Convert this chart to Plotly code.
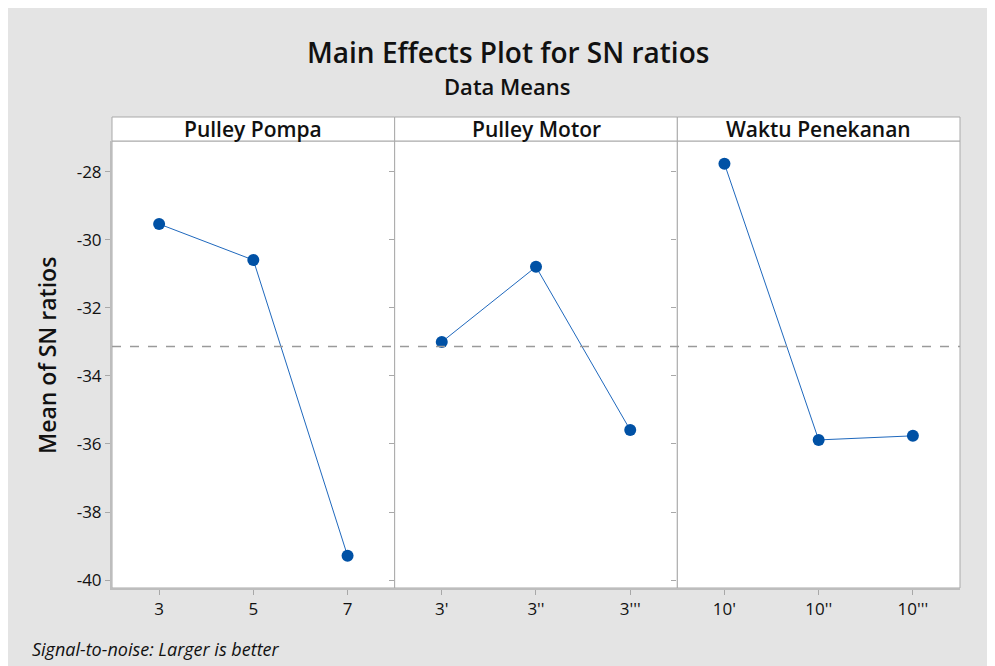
import plotly.graph_objects as go
from plotly.subplots import make_subplots

factors = ["Pulley Pompa", "Pulley Motor", "Waktu Penekanan"]
levels_pompa = ["3", "5", "7"]
levels_motor = ["3'", "3''", "3'''"]
levels_waktu = ["10'", "10''", "10'''"]
sn_pompa = [-29.53, -30.59, -39.29]
sn_motor = [-33.00, -30.79, -35.59]
sn_waktu = [-27.76, -35.88, -35.76]
y_ticks = [-28, -30, -32, -34, -36, -38, -40]

levels = [levels_pompa, levels_motor, levels_waktu]
values = [sn_pompa, sn_motor, sn_waktu]
all_vals = sn_pompa + sn_motor + sn_waktu
grand_mean = sum(all_vals) / len(all_vals)

FONT = "Open Sans"
# page body has an 8px margin, so the figure starts at (8, 8) on screen
OFF = 8
SW, SH = 995, 666
PL, PR, PT, PB = 112, 960, 141, 588   # plot area in screen pixels
W, H = SW - OFF, SH - OFF
L, R, T, B = PL - OFF, SW - PR, PT - OFF, SH - PB
pw = PR - PL
ph = PB - PT

def px_x(px):
    return (px - PL) / pw

def px_y(py):
    return (PB - py) / ph

fig = make_subplots(rows=1, cols=3, shared_yaxes=True, horizontal_spacing=0)

for i, (lv, vals) in enumerate(zip(levels, values)):
    fig.add_trace(go.Scatter(
        x=lv, y=vals, mode="lines+markers",
        line=dict(color="#1f68bd", width=1),
        marker=dict(color="#0051a5", size=12),
        showlegend=False, hoverinfo="x+y"), row=1, col=i + 1)
    fig.update_xaxes(type="category", range=[-0.5, 2.5], categoryorder="array",
                     categoryarray=lv, showgrid=False, zeroline=False,
                     showline=True, linecolor="#bdbdbd", linewidth=2, mirror=False,
                     ticks="outside", ticklen=5, tickcolor="#a8a8a8", tickwidth=1,
                     tickfont=dict(family=FONT, size=17, color="#111111"),
                     fixedrange=True, row=1, col=i + 1)

fig.update_yaxes(range=[-40.235, -27.09], tickvals=y_ticks,
                 ticktext=[str(v) for v in y_ticks], showgrid=False, zeroline=False,
                 ticks="outside", ticklen=5, tickcolor="#a8a8a8", tickwidth=1,
                 tickfont=dict(family=FONT, size=17, color="#111111"),
                 fixedrange=True)
fig.update_yaxes(showline=True, linecolor="#bdbdbd", linewidth=2, row=1, col=1)

shapes = []
for i in range(3):
    x0 = i / 3
    x1 = (i + 1) / 3
    shapes.append(dict(type="rect", xref="paper", yref="paper", x0=x0, x1=x1, y0=0, y1=1,
                       fillcolor="white", line=dict(color="#a9a9a9", width=1), layer="below"))
    shapes.append(dict(type="rect", xref="paper", yref="paper", x0=x0, x1=x1, y0=1,
                       y1=px_y(117), fillcolor="white", line=dict(color="#a9a9a9", width=1)))
shapes.append(dict(type="line", xref="paper", yref="y", x0=0, x1=1, y0=grand_mean, y1=grand_mean,
                   line=dict(color="#9a9a9a", width=1.5, dash="dash")))

annotations = []
for i, f in enumerate(factors):
    annotations.append(dict(text=f, xref="paper", yref="paper", x=(i + 0.5) / 3,
                            y=(1 + px_y(117)) / 2, showarrow=False, xanchor="center", yanchor="middle",
                            font=dict(family=FONT, size=21, color="#111111", weight=600)))
annotations.append(dict(text="Main Effects Plot for SN ratios", xref="paper", yref="paper",
                        x=px_x(508), y=px_y(52), showarrow=False, xanchor="center", yanchor="middle",
                        font=dict(family=FONT, size=28, color="#111111", weight=600)))
annotations.append(dict(text="Data Means", xref="paper", yref="paper",
                        x=px_x(507), y=px_y(86), showarrow=False, xanchor="center", yanchor="middle",
                        font=dict(family=FONT, size=22, color="#111111", weight=600)))
annotations.append(dict(text="Mean of SN ratios", xref="paper", yref="paper",
                        x=px_x(47), y=px_y(356), showarrow=False, textangle=-90,
                        xanchor="center", yanchor="middle",
                        font=dict(family=FONT, size=23, color="#111111", weight=600)))
annotations.append(dict(text="<i>Signal-to-noise: Larger is better</i>", xref="paper", yref="paper",
                        x=px_x(30), y=px_y(649), showarrow=False, xanchor="left", yanchor="middle",
                        font=dict(family=FONT, size=18, color="#111111")))

fig.update_layout(width=W, height=H, margin=dict(l=L, r=R, t=T, b=B),
                  paper_bgcolor="#e4e4e4", plot_bgcolor="rgba(0,0,0,0)",
                  shapes=shapes, annotations=annotations, showlegend=False,
                  font=dict(family=FONT))

fig.write_html("out.html")
